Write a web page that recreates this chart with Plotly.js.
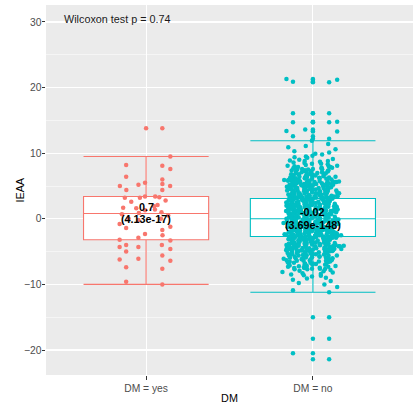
<!DOCTYPE html>
<html><head><meta charset="utf-8">
<script src="https://cdn.plot.ly/plotly-3.0.1.min.js"></script>
<style>html,body{margin:0;padding:0;background:#fff}#chart{width:414px;height:406px}</style>
</head><body><div id="chart"></div>
<script>
// ---- data ----
const categories = ['DM = yes', 'DM = no'];
const medianLabels = ['0.7', '-0.02'];
const pLabels = ['(4.13e-17)', '(3.69e-148)'];
const wilcoxonLabel = 'Wilcoxon test p = 0.74';
const xTitle = 'DM';
const yTitle = 'IEAA';
const q1 = [-3.2, -2.7];
const medians = [0.8, 0.0];
const q3 = [3.4, 3.1];
const lowerWhisker = [-10.0, -11.2];
const upperWhisker = [9.5, 11.9];

const ieaaYes = [13.8, 9.5, 8.2, 8.1, 7.6, 6.4, 6.0, 5.5, 5.3, 5.2, 5.0, 5.0, 4.4, 4.4, 3.4, 3.4, 3.3, 3.2, 3.2,
  2.8, 2.6, 2.1, 1.9, 1.7, 1.6, 1.4, 1.3, 1.0, 0.9, 0.7, 0.5, 0.0, 0.0, -0.2, -0.8, -1.2, -1.4, -1.7, -2.3, -2.5,
  -2.9, -3.2, -3.3, -4.0, -4.0, -4.3, -4.3, -4.6, -5.0, -5.6, -6.1, -6.2, -6.4, -7.4, -7.6, -9.6, -10.0];

const ieaaNo = [
  21.3, 21.2, 20.9, 20.8, 16.1, 16.1, 14.8, 14.7, 14.7, 13.6, 13.4, 13.3, 12.6, 12.2,
  11.9, 11.4, 11.1, 10.9, 10.6, 10.3, 10.1,
  9.9, 9.8, 9.6, 9.5, 9.4, 9.3, 9.1, 9.0,
  8.9, 8.8, 8.8, 8.7, 8.6, 8.5, 8.4, 8.4, 8.3, 8.2, 8.1, 8.1, 8.0, 8.0,
  7.9, 7.9, 7.8, 7.8, 7.8, 7.7, 7.7, 7.6, 7.6, 7.5, 7.5, 7.4, 7.4, 7.3, 7.3, 7.3, 7.2, 7.2, 7.1, 7.1, 7.0, 7.0,
  6.9, 6.9, 6.8, 6.8, 6.8, 6.7, 6.7, 6.7, 6.6, 6.6, 6.5, 6.5, 6.5, 6.4, 6.4, 6.4, 6.3, 6.3, 6.3, 6.2, 6.2, 6.2, 6.1, 6.1, 6.1, 6.0, 6.0, 6.0,
  5.9, 5.9, 5.9, 5.8, 5.8, 5.8, 5.8, 5.7, 5.7, 5.7, 5.6, 5.6, 5.6, 5.6, 5.5, 5.5, 5.5, 5.4, 5.4, 5.4, 5.3, 5.3, 5.3, 5.3, 5.2, 5.2, 5.2, 5.1, 5.1, 5.1, 5.0, 5.0, 5.0,
  4.9, 4.9, 4.9, 4.8, 4.8, 4.8, 4.7, 4.7, 4.7, 4.7, 4.6, 4.6, 4.6, 4.6, 4.5, 4.5, 4.5, 4.5, 4.5, 4.4, 4.4, 4.4, 4.3, 4.3, 4.3, 4.3, 4.2, 4.2, 4.2, 4.2, 4.1, 4.1, 4.1, 4.1, 4.0, 4.0, 4.0,
  3.9, 3.9, 3.9, 3.9, 3.8, 3.8, 3.8, 3.8, 3.7, 3.7, 3.7, 3.7, 3.6, 3.6, 3.6, 3.6, 3.5, 3.5, 3.5, 3.5, 3.4, 3.4, 3.4, 3.4, 3.3, 3.3, 3.3, 3.3, 3.2, 3.2, 3.2, 3.2, 3.1, 3.1, 3.1, 3.1, 3.0, 3.0, 3.0,
  2.9, 2.9, 2.9, 2.9, 2.8, 2.8, 2.8, 2.8, 2.7, 2.7, 2.7, 2.7, 2.6, 2.6, 2.6, 2.6, 2.5, 2.5, 2.5, 2.5, 2.5, 2.4, 2.4, 2.4, 2.4, 2.3, 2.3, 2.3, 2.3, 2.2, 2.2, 2.2, 2.2, 2.1, 2.1, 2.1, 2.1, 2.0, 2.0, 2.0, 2.0,
  1.9, 1.9, 1.9, 1.9, 1.8, 1.8, 1.8, 1.8, 1.7, 1.7, 1.7, 1.7, 1.6, 1.6, 1.6, 1.6, 1.5, 1.5, 1.5, 1.5, 1.5, 1.4, 1.4, 1.4, 1.4, 1.3, 1.3, 1.3, 1.3, 1.2, 1.2, 1.2, 1.2, 1.2, 1.1, 1.1, 1.1, 1.1, 1.0, 1.0, 1.0, 1.0,
  0.9, 0.9, 0.9, 0.9, 0.8, 0.8, 0.8, 0.8, 0.7, 0.7, 0.7, 0.7, 0.7, 0.6, 0.6, 0.6, 0.6, 0.5, 0.5, 0.5, 0.5, 0.4, 0.4, 0.4, 0.4, 0.4, 0.3, 0.3, 0.3, 0.3, 0.2, 0.2, 0.2, 0.2, 0.1, 0.1, 0.1, 0.1, 0.0, 0.0, 0.0, 0.0,
  -0.1, -0.1, -0.1, -0.1, -0.1, -0.2, -0.2, -0.2, -0.2, -0.2, -0.3, -0.3, -0.3, -0.3, -0.3, -0.4, -0.4, -0.4, -0.4, -0.4, -0.5, -0.5, -0.5, -0.5, -0.5,
  -0.6, -0.6, -0.6, -0.6, -0.6, -0.7, -0.7, -0.7, -0.7, -0.7, -0.8, -0.8, -0.8, -0.8, -0.8, -0.9, -0.9, -0.9, -0.9, -0.9, -1.0, -1.0, -1.0, -1.0, -1.0,
  -1.1, -1.1, -1.1, -1.1, -1.2, -1.2, -1.2, -1.2, -1.2, -1.3, -1.3, -1.3, -1.3, -1.3, -1.4, -1.4, -1.4, -1.4, -1.5, -1.5, -1.5, -1.5, -1.5,
  -1.6, -1.6, -1.6, -1.6, -1.6, -1.7, -1.7, -1.7, -1.7, -1.7, -1.8, -1.8, -1.8, -1.8, -1.9, -1.9, -1.9, -1.9, -1.9, -2.0, -2.0, -2.0, -2.0, -2.0,
  -2.1, -2.1, -2.1, -2.1, -2.2, -2.2, -2.2, -2.2, -2.3, -2.3, -2.3, -2.3, -2.3, -2.4, -2.4, -2.4, -2.4, -2.5, -2.5, -2.5, -2.5, -2.5,
  -2.6, -2.6, -2.6, -2.6, -2.7, -2.7, -2.7, -2.7, -2.7, -2.8, -2.8, -2.8, -2.8, -2.9, -2.9, -2.9, -2.9, -3.0, -3.0, -3.0, -3.0,
  -3.1, -3.1, -3.1, -3.1, -3.2, -3.2, -3.2, -3.2, -3.3, -3.3, -3.3, -3.3, -3.4, -3.4, -3.4, -3.4, -3.5, -3.5, -3.5,
  -3.6, -3.6, -3.6, -3.6, -3.7, -3.7, -3.7, -3.7, -3.8, -3.8, -3.8, -3.8, -3.9, -3.9, -3.9, -3.9, -4.0, -4.0, -4.0, -4.0,
  -4.1, -4.1, -4.1, -4.2, -4.2, -4.2, -4.2, -4.3, -4.3, -4.3, -4.3, -4.4, -4.4, -4.4, -4.5, -4.5, -4.5,
  -4.6, -4.6, -4.6, -4.6, -4.7, -4.7, -4.7, -4.8, -4.8, -4.8, -4.8, -4.9, -4.9, -4.9, -5.0, -5.0, -5.0,
  -5.1, -5.1, -5.1, -5.2, -5.2, -5.2, -5.3, -5.3, -5.3, -5.4, -5.4, -5.4, -5.5, -5.5, -5.5,
  -5.6, -5.6, -5.6, -5.7, -5.7, -5.8, -5.8, -5.8, -5.9, -5.9, -6.0, -6.0, -6.0,
  -6.1, -6.1, -6.2, -6.2, -6.3, -6.3, -6.4, -6.4, -6.4, -6.5, -6.5, -6.6, -6.6, -6.7, -6.7, -6.8, -6.8, -6.8, -6.9, -6.9, -7.0, -7.0,
  -7.1, -7.2, -7.2, -7.3, -7.3, -7.4, -7.5, -7.5, -7.6, -7.6, -7.7, -7.7, -7.8, -7.9, -8.0,
  -8.1, -8.2, -8.3, -8.4, -8.5, -8.6, -8.7, -8.8, -9.0,
  -9.1, -9.3, -9.5, -9.8, -10.0, -10.4, -10.9, -11.2,
  -15.0, -18.3, -20.5, -21.4,
  0.35, -0.45, 1.25, -1.65, 2.15, -2.35, 3.45, -3.25, 4.05, -4.55, 5.15, -5.35, 6.25, -6.15, 0.85, -0.95,
  1.75, -1.15, 2.65, -2.85, 3.85, -3.75, 4.65, -4.15, 5.55, -5.85, 6.65, -6.55, 0.15, -0.25, 1.45, -1.35,
  2.35, -2.15, 3.15, -3.55, 4.35, -4.85, 5.85, -5.15, 0.55, -0.65, 1.05, -1.85, 2.85, -2.55, 3.65, -3.05,
  4.95, -4.35, 5.35, -5.65, 6.05, -6.85, 0.05, -0.15, 1.65, -1.45, 2.45, -2.65, 3.35, -3.95, 4.25, -4.75,
  7.15, -7.25, 0.75, -0.75, 1.95, -1.05, 2.05, -2.95, 3.95, -3.45, 4.55, -4.05, 6.45, -6.35, 7.55, -7.65,
  0.25, -0.35, 1.35, -1.95, 2.75, -2.25, 3.55, -3.85, 4.75, -4.45, 5.65, -5.45, 0.65, -0.55, 1.15, -1.25,
  2.25, -2.45, 3.25, -3.65, 4.45, -4.65, 5.25, -5.95, 6.85, -7.05, 0.45, -0.85, 1.85, -1.55, 2.55, -2.75,
  3.75, -3.15, 4.85, -4.95, 5.75, -5.55, 7.35, -7.45
];

// ---- styling ----
const groupColors = ['#F8766D', '#00BFC4'];
const groupData = [ieaaYes, ieaaNo];
const FONT = 'Liberation Sans, Arial, Helvetica, sans-serif';
const BAND = 2; // points are jittered band by band so the spread stays even, as in a plain jitter

const traces = [];
categories.forEach((cat, i) => {
  traces.push({
    type: 'box', x: [cat], q1: [q1[i]], median: [medians[i]], q3: [q3[i]],
    lowerfence: [lowerWhisker[i]], upperfence: [upperWhisker[i]],
    width: 0.75, whiskerwidth: 1, fillcolor: '#FFFFFF',
    line: {color: groupColors[i], width: 1.1},
    boxpoints: false, hoverinfo: 'skip', showlegend: false
  });
});
categories.forEach((cat, i) => {
  const bands = {};
  groupData[i].forEach(v => {
    const k = Math.floor(v / BAND);
    (bands[k] = bands[k] || []).push(v);
  });
  Object.keys(bands).forEach(k => {
    const d = bands[k];
    traces.push({
      type: 'box', x: d.map(() => cat), y: d,
      boxpoints: 'all', jitter: 0.5, pointpos: 0, width: 0.75,
      fillcolor: 'rgba(0,0,0,0)', line: {color: 'rgba(0,0,0,0)', width: 0},
      marker: {color: groupColors[i], size: 4.5},
      hoverinfo: 'skip', showlegend: false
    });
  });
});
categories.forEach((cat, i) => {
  const out = groupData[i].filter(v => v > upperWhisker[i] || v < lowerWhisker[i]);
  traces.push({
    type: 'scatter', mode: 'markers', x: out.map(() => cat), y: out,
    marker: {color: groupColors[i], size: 4.5},
    hoverinfo: 'skip', showlegend: false
  });
});

const annotations = [];
categories.forEach((cat, i) => {
  annotations.push({x: cat, y: medians[i], xref: 'x', yref: 'y', yshift: 7, showarrow: false,
    text: '<b>' + medianLabels[i] + '</b>', font: {family: FONT, size: 10.8, color: '#000'}});
  annotations.push({x: cat, y: medians[i], xref: 'x', yref: 'y', yshift: -5.7, showarrow: false,
    text: '<b>' + pLabels[i] + '</b>', font: {family: FONT, size: 10.8, color: '#000'}});
});
annotations.push({x: 0.043, y: 0.962, xref: 'paper', yref: 'paper', xanchor: 'left', yanchor: 'middle',
  showarrow: false, text: wilcoxonLabel, font: {family: FONT, size: 10.8, color: '#1A1A1A'}});
// y-axis title, placed as in the reference
annotations.push({x: -0.072, y: 0.5, xref: 'paper', yref: 'paper', xanchor: 'center', yanchor: 'middle',
  textangle: -90, showarrow: false, text: yTitle, font: {family: FONT, size: 10.8, color: '#000'}});

const layout = {
  width: 414, height: 406,
  margin: {l: 46, r: 1, t: 5, b: 31, pad: 0},
  paper_bgcolor: '#FFFFFF', plot_bgcolor: '#EBEBEB',
  boxmode: 'overlay', showlegend: false,
  font: {family: FONT, color: '#000'},
  xaxis: {
    type: 'category', categoryorder: 'array', categoryarray: categories,
    range: [-0.6, 1.6], showgrid: true, gridcolor: '#FFFFFF', gridwidth: 1.1,
    zeroline: false, showline: false,
    ticks: 'outside', ticklen: 3.5, tickwidth: 1, tickcolor: '#333333',
    tickfont: {family: FONT, size: 10.3, color: '#4D4D4D'},
    title: {text: xTitle, font: {family: FONT, size: 10.8, color: '#000'}, standoff: 1}
  },
  yaxis: {
    range: [-23.81, 32.59], tick0: 0, dtick: 10,
    showgrid: true, gridcolor: '#FFFFFF', gridwidth: 1.1,
    minor: {tick0: 0, dtick: 5, showgrid: true, gridcolor: '#FFFFFF', gridwidth: 0.5, ticks: ''},
    zeroline: false, showline: false,
    ticks: 'outside', ticklen: 3.5, tickwidth: 1, tickcolor: '#333333',
    ticklabelstandoff: -2,
    tickfont: {family: FONT, size: 10.3, color: '#4D4D4D'}
  },
  annotations: annotations
};

Plotly.newPlot('chart', traces, layout, {displayModeBar: false, staticPlot: true});
</script></body></html>
